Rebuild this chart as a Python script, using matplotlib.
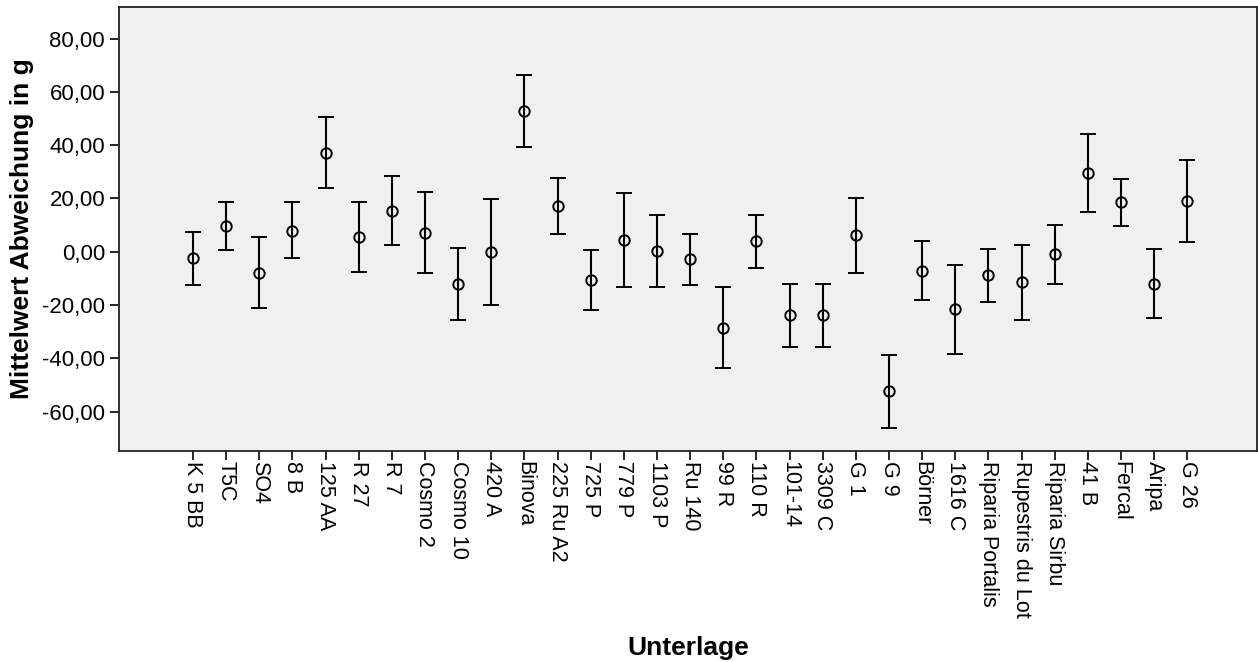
import matplotlib
matplotlib.use("Agg")
import matplotlib.pyplot as plt
from matplotlib.ticker import FuncFormatter

plt.rcParams['font.family'] = ['Liberation Sans', 'DejaVu Sans']

# Unterlagen und Mittelwerte mit Fehlerbalken (oben/unten)
unterlagen = ['K 5 BB', 'T5C', 'SO4', '8 B', '125 AA', 'R 27', 'R 7', 'Cosmo 2',
              'Cosmo 10', '420 A', 'Binova', '225 Ru A2', '725 P', '779 P', '1103 P',
              'Ru 140', '99 R', '110 R', '101-14', '3309 C', 'G 1', 'G 9', 'Börner',
              '1616 C', 'Riparia Portalis', 'Rupestris du Lot', 'Riparia Sirbu',
              '41 B', 'Fercal', 'Aripa', 'G 26']
mittelwert = [-2.5, 9.6, -7.9, 7.9, 37.2, 5.5, 15.4, 7.1,
              -12.1, -0.1, 52.8, 17.0, -10.6, 4.4, 0.4,
              -2.9, -28.6, 3.9, -23.9, -23.8, 6.3, -52.4, -7.1,
              -21.6, -8.9, -11.5, -1.0,
              29.6, 18.5, -12.0, 19.1]
obere_grenze = [7.5, 18.8, 5.4, 18.5, 50.5, 18.6, 28.5, 22.4,
                1.4, 19.9, 66.2, 27.5, 0.6, 22.1, 13.8,
                6.5, -13.1, 13.8, -12.1, -12.1, 20.1, -38.6, 4.0,
                -5.0, 1.0, 2.6, 10.0,
                44.3, 27.2, 1.1, 34.4]
untere_grenze = [-12.5, 0.6, -21.0, -2.5, 23.8, -7.5, 2.6, -8.1,
                 -25.6, -20.1, 39.3, 6.6, -21.8, -13.2, -13.1,
                 -12.4, -43.8, -6.1, -35.8, -35.7, -7.9, -66.0, -18.2,
                 -38.3, -18.8, -25.6, -12.0,
                 15.0, 9.8, -25.0, 3.8]
y_ticks = [-60, -40, -20, 0, 20, 40, 60, 80]

x = list(range(len(unterlagen)))
err_unten = [m - u for m, u in zip(mittelwert, untere_grenze)]
err_oben = [o - m for m, o in zip(mittelwert, obere_grenze)]

fig = plt.figure(figsize=(12.58, 6.62), dpi=100)
ax = fig.add_axes([0.0946, 0.3192, 0.9046, 0.6697])
ax.set_facecolor('#f0f0f0')

ax.errorbar(x, mittelwert, yerr=[err_unten, err_oben], fmt='o', color='black',
            markerfacecolor='none', markeredgecolor='black', markersize=7.5,
            markeredgewidth=1.4, elinewidth=1.5, capsize=6, capthick=1.5)

ax.set_xlim(-2.23, 32.1)
ax.set_ylim(-74.7, 91.7)
ax.set_yticks(y_ticks)
ax.yaxis.set_major_formatter(FuncFormatter(lambda v, p: f'{v:.2f}'.replace('.', ',')))
ax.set_xticks(x)
ax.set_xticklabels(unterlagen, rotation=270, ha='center', va='top', fontsize=15.5)
ax.tick_params(axis='y', labelsize=16, length=6.5, width=1.2, color='black')
ax.tick_params(axis='x', length=6.5, width=1.2, color='black', pad=1)

for s in ax.spines.values():
    s.set_linewidth(1.3)
    s.set_color('#222222')

ax.set_ylabel('Mittelwert Abweichung in g', fontsize=19, fontweight='bold')
fig.text(0.547, 0.021, 'Unterlage', fontsize=19, fontweight='bold', ha='center', va='center')
ax.yaxis.set_label_coords(-0.075, 0.5)

fig.savefig('out.png', dpi=100)
